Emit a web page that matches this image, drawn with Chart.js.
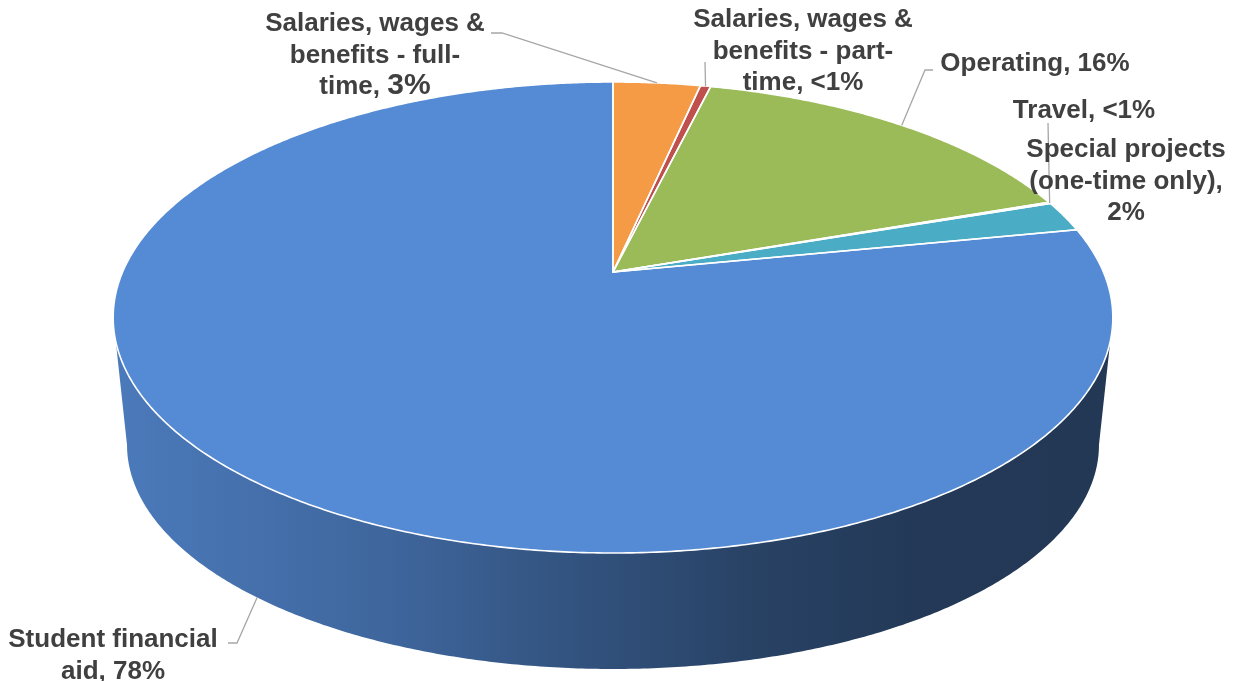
<!DOCTYPE html>
<html>
<head>
<meta charset="utf-8">
<script src="https://cdn.jsdelivr.net/npm/chart.js@4"></script>
<style>
  html, body { margin: 0; padding: 0; background: #fff; }
  canvas { display: block; }
</style>
</head>
<body>
<canvas id="chart" width="1238" height="681"></canvas>
<script>
// spending by category, percent of the total budget
const categories = [
  'Salaries, wages & benefits - full-time',
  'Salaries, wages & benefits - part-time',
  'Operating',
  'Travel',
  'Special projects (one-time only)',
  'Student financial aid'
];
const shares = [3.4, 0.4, 15.9, 0.1, 2.1, 78.1];
const sliceColors = ['#F59A45', '#C0504D', '#9BBB59', '#8064A2', '#4BACC6', '#558BD4'];

// label placement: centre x and first baseline
const labelPos = [
  { x: 375, y: 31 },
  { x: 803, y: 27 },
  { x: 1035, y: 71 },
  { x: 1084, y: 118 },
  { x: 1126, y: 157 },
  { x: 113, y: 647 }
];
// size of the percentage part of each label
const valueSize = [30, 26, 26, 26, 26, 26];
// leader lines: points on the label side, the slice end is worked out from the arc
const leaders = [
  { pts: [[491, 33], [502, 33]], rim: 'top' },
  { pts: [[705, 62]], rim: 'top' },
  { pts: [[933, 70], [925, 70]], rim: 'top' },
  { pts: [[1048, 123]], rim: 'top' },
  null,
  { pts: [[228, 643], [237, 643]], rim: 'bottom' }
];

const FAMILY = "'Liberation Sans', Arial, sans-serif";
const FONT_SIZE = 26;
const LINE_H = 31.5;
const WRAP_W = 225;

// 3d look: perspective tilt and extrusion, relative to the pie radius
const TILT = -0.1932;
const TOP_X = 1.803, TOP_Y = 0.8335;
const BOT_X = 1.753, BOT_Y = 0.7007, BOT_DROP = 0.4768;
const SIDE_SHADE = [[0, 0.88], [0.29, 0.73], [0.39, 0.65], [0.5, 0.57], [0.63, 0.48], [0.8, 0.41], [1, 0.40]];

const total = shares.reduce((a, b) => a + b, 0);
const pctText = v => {
  const p = v / total * 100;
  return p < 1 ? '<1%' : Math.round(p) + '%';
};
const boldFont = size => `bold ${size}px ${FAMILY}`;

// flat pie point (angle, fraction of radius) -> tilted disc, top face or bottom rim
function project(arc, angle, r, level) {
  const R = arc.outerRadius;
  const u = r * Math.cos(angle), v = r * Math.sin(angle);
  const den = 1 + TILT * v;
  if (level === 'bottom') {
    return [arc.x + BOT_X * R * u / den, arc.y + (BOT_DROP * R + BOT_Y * R * v) / den];
  }
  return [arc.x + TOP_X * R * u / den, arc.y + TOP_Y * R * v / den];
}

function rimPath(ctx, arc, a0, a1, level, first) {
  const steps = Math.max(2, Math.ceil(Math.abs(a1 - a0) / 0.008));
  for (let i = 0; i <= steps; i++) {
    const p = project(arc, a0 + (a1 - a0) * i / steps, 1, level);
    if (i === 0 && first) ctx.moveTo(p[0], p[1]);
    else ctx.lineTo(p[0], p[1]);
  }
}

const hexRgb = h => [1, 3, 5].map(i => parseInt(h.substr(i, 2), 16));

const pie3d = {
  id: 'pie3d',
  beforeDatasetsDraw(chart) {
    const ctx = chart.ctx;
    const arcs = chart.getDatasetMeta(0).data;
    const front0 = Math.asin(-TILT), front1 = Math.PI - front0;

    ctx.save();
    // side wall, only the part facing the viewer
    arcs.forEach((arc, i) => {
      const a0 = Math.max(arc.startAngle, front0);
      const a1 = Math.min(arc.endAngle, front1);
      if (a1 <= a0) return;
      const left = project(arc, front1, 1, 'top')[0];
      const right = project(arc, front0, 1, 'top')[0];
      const rgb = hexRgb(sliceColors[i]);
      const grad = ctx.createLinearGradient(left, 0, right, 0);
      SIDE_SHADE.forEach(([t, k]) => {
        grad.addColorStop(t, `rgb(${rgb.map(c => Math.round(c * k)).join(',')})`);
      });
      ctx.beginPath();
      rimPath(ctx, arc, a0, a1, 'top', true);
      rimPath(ctx, arc, a1, a0, 'bottom', false);
      ctx.closePath();
      ctx.fillStyle = grad;
      ctx.fill();
    });

    // top face
    ctx.lineJoin = 'round';
    arcs.forEach((arc, i) => {
      const c = project(arc, 0, 0, 'top');
      ctx.beginPath();
      ctx.moveTo(c[0], c[1]);
      rimPath(ctx, arc, arc.startAngle, arc.endAngle, 'top', false);
      ctx.closePath();
      ctx.fillStyle = sliceColors[i];
      ctx.fill();
    });
    arcs.forEach(arc => {
      const c = project(arc, 0, 0, 'top');
      ctx.beginPath();
      ctx.moveTo(c[0], c[1]);
      rimPath(ctx, arc, arc.startAngle, arc.endAngle, 'top', false);
      ctx.closePath();
      ctx.strokeStyle = '#FFFFFF';
      ctx.lineWidth = 1.6;
      ctx.stroke();
    });
    ctx.restore();
    return false;
  }
};

function wrapText(ctx, text, maxW) {
  const pieces = text.split(/(?<= )|(?<=[^ ]-)/);
  const lines = [];
  let line = '';
  for (const p of pieces) {
    const test = line + p;
    if (line && ctx.measureText(test.trimEnd()).width > maxW) {
      lines.push(line.trimEnd());
      line = p;
    } else {
      line = test;
    }
  }
  if (line) lines.push(line.trimEnd());
  return lines;
}

const sliceLabels = {
  id: 'sliceLabels',
  afterDraw(chart) {
    const ctx = chart.ctx;
    const arcs = chart.getDatasetMeta(0).data;
    ctx.save();

    // leader lines
    ctx.strokeStyle = '#A6A6A6';
    ctx.lineWidth = 1.3;
    arcs.forEach((arc, i) => {
      const ld = leaders[i];
      if (!ld) return;
      const end = project(arc, (arc.startAngle + arc.endAngle) / 2, 1, ld.rim);
      ctx.beginPath();
      ld.pts.forEach((p, k) => k === 0 ? ctx.moveTo(p[0], p[1]) : ctx.lineTo(p[0], p[1]));
      ctx.lineTo(end[0], end[1]);
      ctx.stroke();
    });

    // category labels with share; the last line carries the percentage
    ctx.fillStyle = '#404040';
    ctx.textAlign = 'left';
    ctx.textBaseline = 'alphabetic';
    categories.forEach((name, i) => {
      const pct = pctText(shares[i]);
      ctx.font = boldFont(FONT_SIZE);
      const lines = wrapText(ctx, name + ', ' + pct, WRAP_W);
      lines.forEach((ln, k) => {
        const y = labelPos[i].y + k * LINE_H;
        const head = k === lines.length - 1 ? ln.slice(0, ln.length - pct.length) : ln;
        const tail = k === lines.length - 1 ? pct : '';
        ctx.font = boldFont(FONT_SIZE);
        const wHead = ctx.measureText(head).width;
        ctx.font = boldFont(valueSize[i]);
        const wTail = ctx.measureText(tail).width;
        const x0 = labelPos[i].x - (wHead + wTail) / 2;
        ctx.font = boldFont(FONT_SIZE);
        ctx.fillText(head, x0, y);
        ctx.font = boldFont(valueSize[i]);
        ctx.fillText(tail, x0 + wHead, y);
      });
    });
    ctx.restore();
  }
};

new Chart(document.getElementById('chart'), {
  type: 'pie',
  data: {
    labels: categories,
    datasets: [{
      data: shares,
      backgroundColor: sliceColors,
      borderColor: '#FFFFFF',
      borderWidth: 0
    }]
  },
  options: {
    responsive: false,
    animation: false,
    layout: { padding: { left: 0, right: 12, top: 0, bottom: 137 } },
    plugins: {
      legend: { display: false },
      tooltip: { enabled: false }
    }
  },
  plugins: [pie3d, sliceLabels]
});
</script>
</body>
</html>
